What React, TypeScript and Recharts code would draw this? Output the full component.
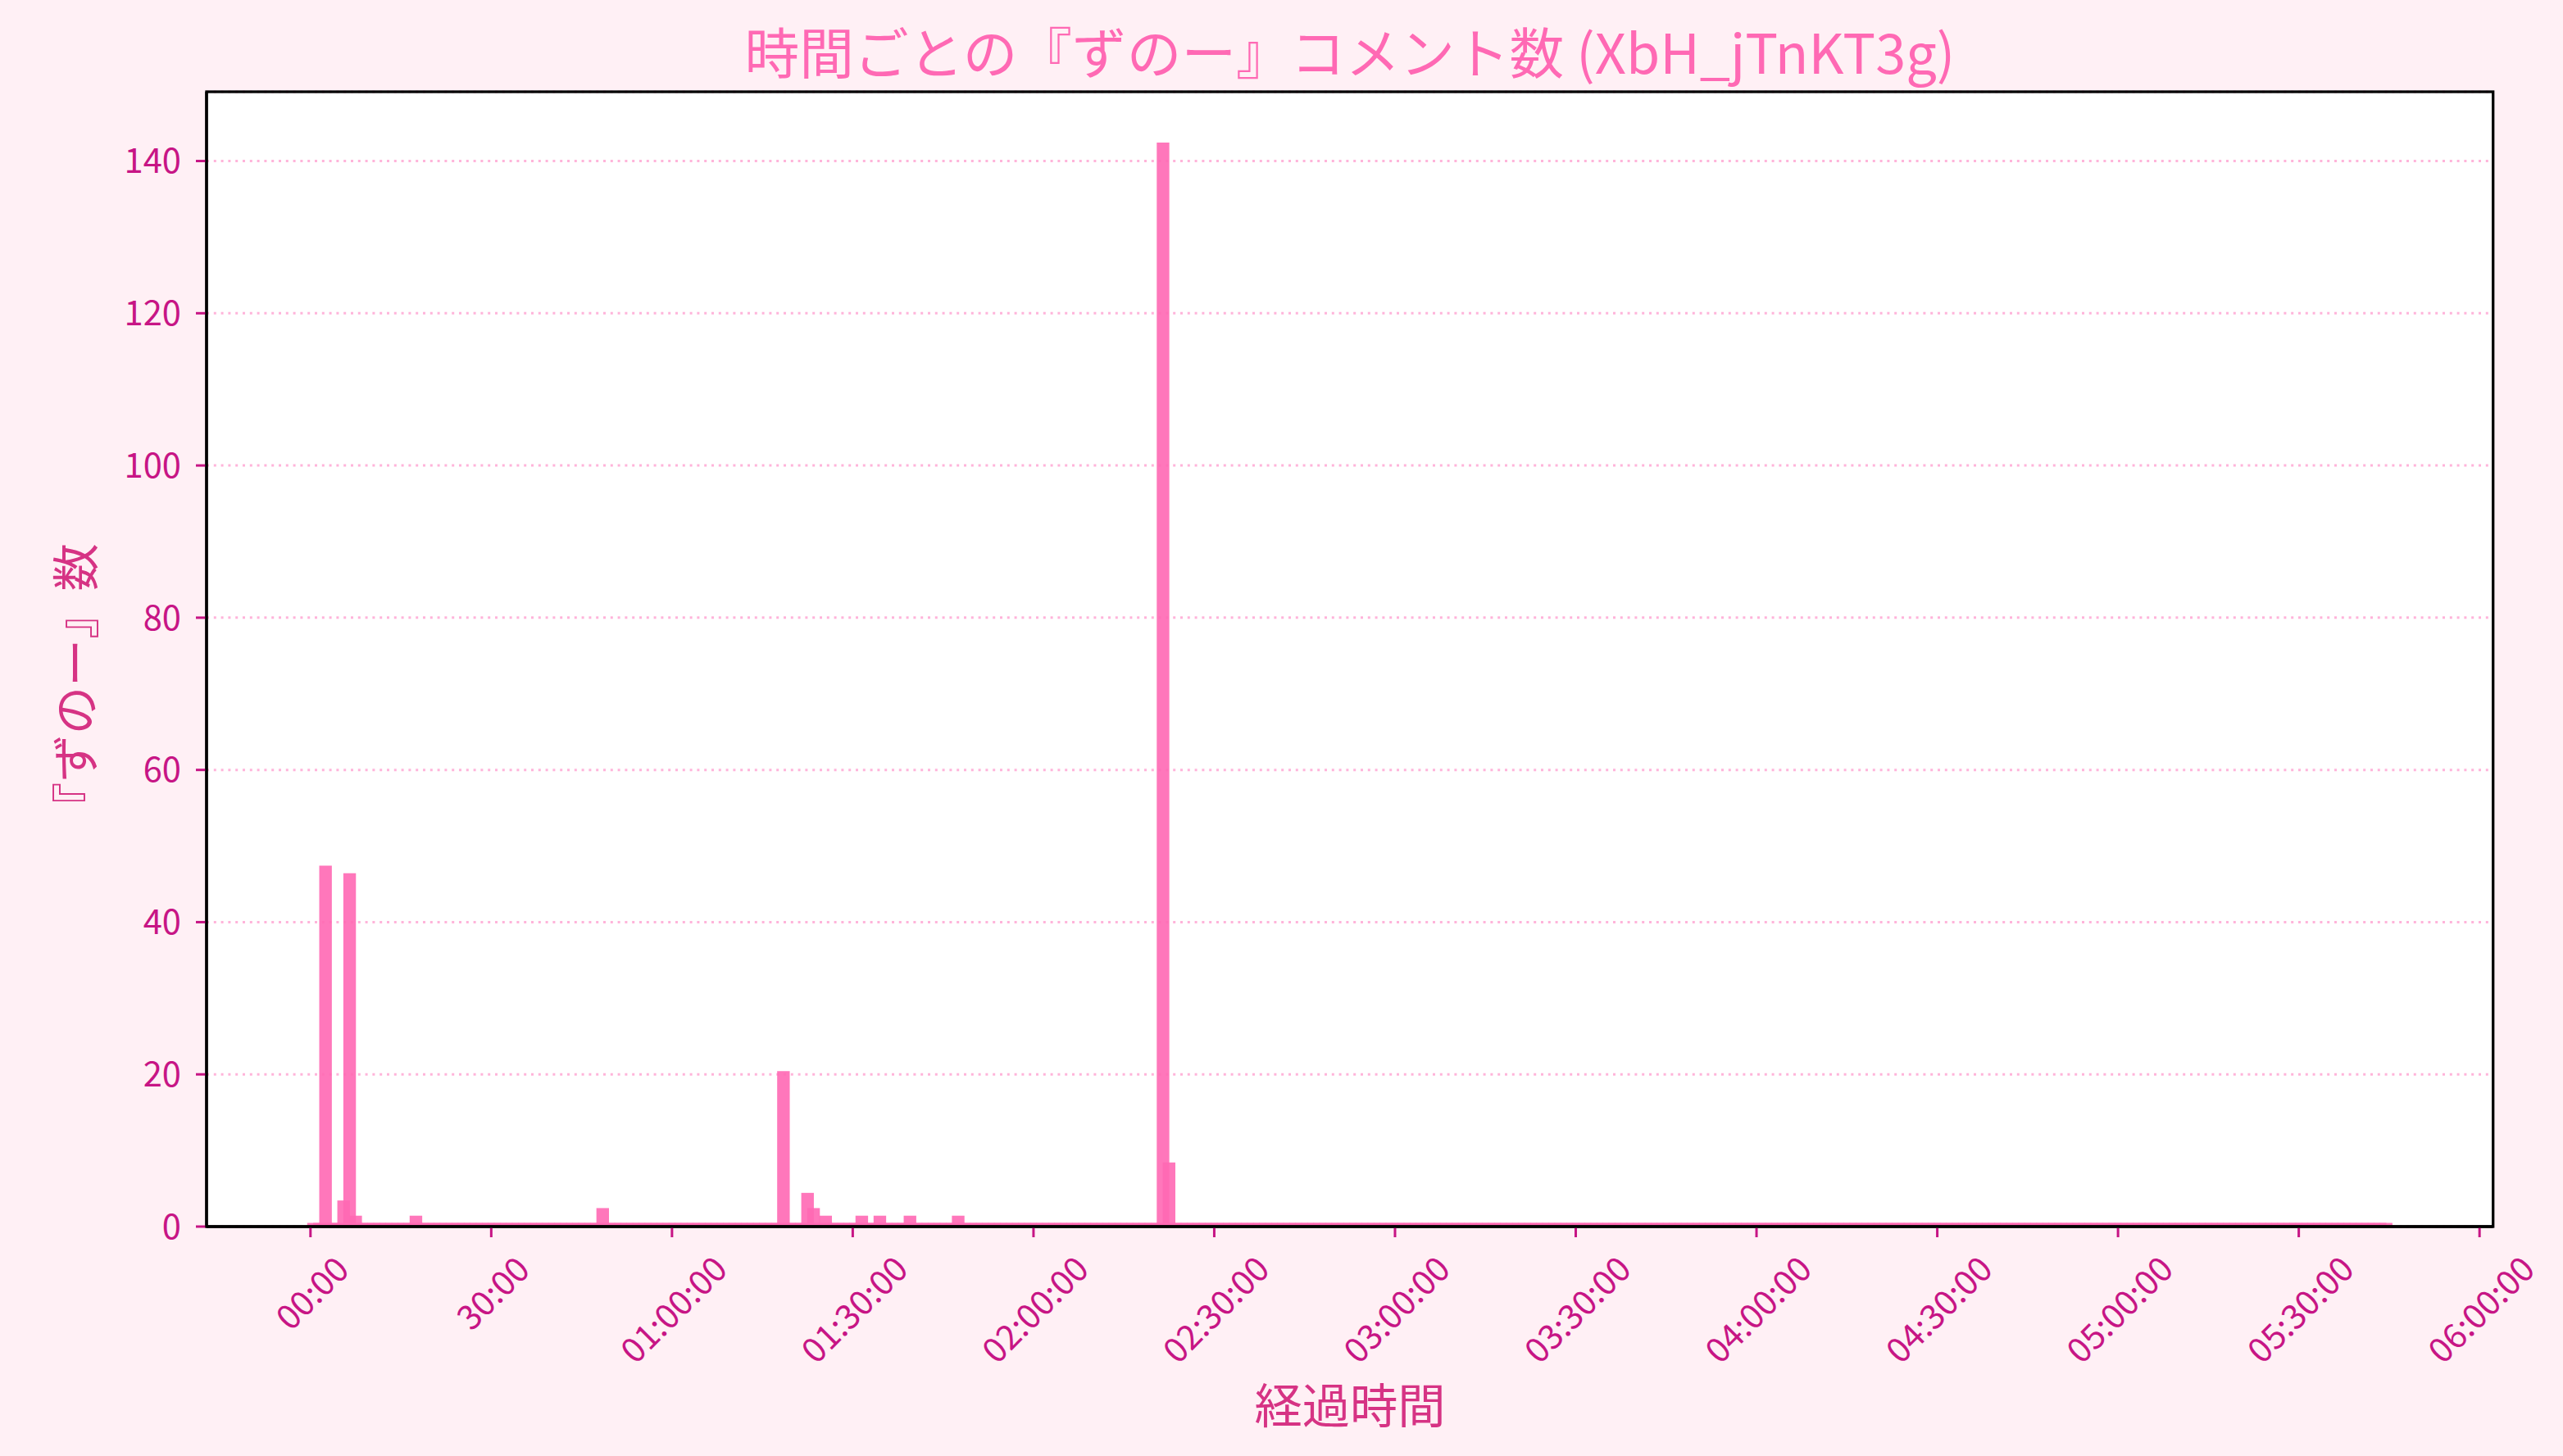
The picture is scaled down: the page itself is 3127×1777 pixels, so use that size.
import React from "react";
import { BarChart, Bar, XAxis, YAxis, CartesianGrid } from "recharts";

// 『ずのー』 comment counts per one-minute bin (bin i covers minute i .. i+1)
const zunoCounts: number[] = [
  0, 0, 47, 0, 0, 3, 46, 1, 0, 0, 0, 0, 0, 0, 0,
  0, 0, 1, 0, 0, 0, 0, 0, 0, 0, 0, 0, 0, 0, 0,
  0, 0, 0, 0, 0, 0, 0, 0, 0, 0, 0, 0, 0, 0, 0,
  0, 0, 0, 2, 0, 0, 0, 0, 0, 0, 0, 0, 0, 0, 0,
  0, 0, 0, 0, 0, 0, 0, 0, 0, 0, 0, 0, 0, 0, 0,
  0, 0, 0, 20, 0, 0, 0, 4, 2, 0, 1, 0, 0, 0, 0,
  0, 1, 0, 0, 1, 0, 0, 0, 0, 1, 0, 0, 0, 0, 0,
  0, 0, 1, 0, 0, 0, 0, 0, 0, 0, 0, 0, 0, 0, 0,
  0, 0, 0, 0, 0, 0, 0, 0, 0, 0, 0, 0, 0, 0, 0,
  0, 0, 0, 0, 0, 0, 142, 8, 0, 0, 0, 0, 0, 0, 0,
  0, 0, 0, 0, 0, 0, 0, 0, 0, 0, 0, 0, 0, 0, 0,
  0, 0, 0, 0, 0, 0, 0, 0, 0, 0, 0, 0, 0, 0, 0,
  0, 0, 0, 0, 0, 0, 0, 0, 0, 0, 0, 0, 0, 0, 0,
  0, 0, 0, 0, 0, 0, 0, 0, 0, 0, 0, 0, 0, 0, 0,
  0, 0, 0, 0, 0, 0, 0, 0, 0, 0, 0, 0, 0, 0, 0,
  0, 0, 0, 0, 0, 0, 0, 0, 0, 0, 0, 0, 0, 0, 0,
  0, 0, 0, 0, 0, 0, 0, 0, 0, 0, 0, 0, 0, 0, 0,
  0, 0, 0, 0, 0, 0, 0, 0, 0, 0, 0, 0, 0, 0, 0,
  0, 0, 0, 0, 0, 0, 0, 0, 0, 0, 0, 0, 0, 0, 0,
  0, 0, 0, 0, 0, 0, 0, 0, 0, 0, 0, 0, 0, 0, 0,
  0, 0, 0, 0, 0, 0, 0, 0, 0, 0, 0, 0, 0, 0, 0,
  0, 0, 0, 0, 0, 0, 0, 0, 0, 0, 0, 0, 0, 0, 0,
  0, 0, 0, 0, 0, 0, 0, 0, 0, 0, 0, 0, 0, 0, 0,
];

const xTickValues: number[] = [0, 30, 60, 90, 120, 150, 180, 210, 240, 270, 300, 330, 360];
const xTickLabels: string[] = [
  "00:00", "30:00", "01:00:00", "01:30:00", "02:00:00", "02:30:00", "03:00:00",
  "03:30:00", "04:00:00", "04:30:00", "05:00:00", "05:30:00", "06:00:00",
];
const yTickValues: number[] = [0, 20, 40, 60, 80, 100, 120, 140];

const TITLE = "時間ごとの『ずのー』コメント数 (XbH_jTnKT3g)";
const X_LABEL = "経過時間";
const Y_LABEL = "『ずのー』数";

// ---- layout / style ----
const W = 3127;
const H = 1777;
const FONT = '"Noto Sans CJK JP", "Noto Sans", sans-serif';
const TICK_FS = 41.7;
const TICK_COLOR = "#c71585";
const BAR_COLOR = "#ff69b4";
const BG = "#fff0f5";
const MARGIN = { top: 112, right: 85.3, left: 132, bottom: 130 };
const Y_AXIS_W = 120;
const X_AXIS_H = 150;
const PLOT_X = MARGIN.left + Y_AXIS_W;
const PLOT_Y = MARGIN.top;
const PLOT_W = W - MARGIN.right - PLOT_X;
const PLOT_H = H - MARGIN.bottom - X_AXIS_H - PLOT_Y;

const chartData = zunoCounts.map((count, i) => ({ minute: i + 0.5, count }));
const spanMin = zunoCounts.length;
const xDomain: [number, number] = [-0.05 * spanMin, spanMin * 1.05];
const yDomain: [number, number] = [0, Math.max(...zunoCounts) * 1.05];

function XTick(props: any) {
  const { x, y, payload } = props;
  const idx = xTickValues.indexOf(payload.value);
  const label = idx >= 0 ? xTickLabels[idx] : "";
  const digits = (label.match(/\d/g) || []).length;
  const colons = (label.match(/:/g) || []).length;
  const w = TICK_FS * (0.553 * digits + 0.245 * colons);
  const cy = y + 30 + 0.3535 * w;
  return (
    <text
      x={x}
      y={cy}
      transform={`rotate(-45 ${x} ${cy})`}
      textAnchor="middle"
      dominantBaseline="central"
      fill={TICK_COLOR}
      fontSize={TICK_FS}
      fontFamily={FONT}
    >
      {label}
    </text>
  );
}

export default function App() {
  return (
    <div style={{ position: "relative", width: W, height: H, background: BG }}>
      <style>{"body{margin:0;background:" + BG + ";}"}</style>
      <BarChart width={W} height={H} data={chartData} margin={MARGIN}>
        <CartesianGrid
          vertical={false}
          stroke="#ffb4da"
          strokeWidth={3}
          strokeDasharray="3 5.8"
          fill="#ffffff"
          fillOpacity={1}
        />
        <Bar
          dataKey="count"
          fill={BAR_COLOR}
          stroke={BAR_COLOR}
          strokeWidth={8}
          opacity={0.9}
          barSize={7.35}
          minPointSize={0.5}
          isAnimationActive={false}
        />
        <XAxis
          dataKey="minute"
          type="number"
          domain={xDomain}
          allowDataOverflow
          ticks={xTickValues}
          interval={0}
          height={X_AXIS_H}
          tickSize={13}
          tickMargin={0}
          tick={<XTick />}
          tickLine={{ stroke: TICK_COLOR, strokeWidth: 3 }}
          axisLine={{ stroke: "#000000", strokeWidth: 3.3 }}
        />
        <YAxis
          type="number"
          domain={yDomain}
          allowDataOverflow
          ticks={yTickValues}
          interval={0}
          width={Y_AXIS_W}
          tickSize={13}
          tickMargin={18}
          tick={{ fill: TICK_COLOR, fontSize: TICK_FS, fontFamily: FONT }}
          tickLine={{ stroke: TICK_COLOR, strokeWidth: 3 }}
          axisLine={{ stroke: "#000000", strokeWidth: 3.3 }}
        />
      </BarChart>
      <svg
        width={W}
        height={H}
        style={{ position: "absolute", left: 0, top: 0, pointerEvents: "none" }}
      >
        <rect
          x={PLOT_X}
          y={PLOT_Y}
          width={PLOT_W}
          height={PLOT_H}
          fill="none"
          stroke="#000000"
          strokeWidth={3.3}
        />
        <text
          x={1647}
          y={61}
          textAnchor="middle"
          dominantBaseline="central"
          fontSize={66.7}
          fontFamily={FONT}
          fill="#ff69b4"
        >
          {TITLE}
        </text>
        <text
          x={1647}
          y={1711}
          textAnchor="middle"
          dominantBaseline="central"
          fontSize={58.3}
          fontFamily={FONT}
          fill="#d63384"
        >
          {X_LABEL}
        </text>
        <text
          x={88}
          y={838}
          transform="rotate(-90 88 838)"
          textAnchor="middle"
          dominantBaseline="central"
          fontSize={58.3}
          fontFamily={FONT}
          fill="#d63384"
        >
          {Y_LABEL}
        </text>
      </svg>
    </div>
  );
}
